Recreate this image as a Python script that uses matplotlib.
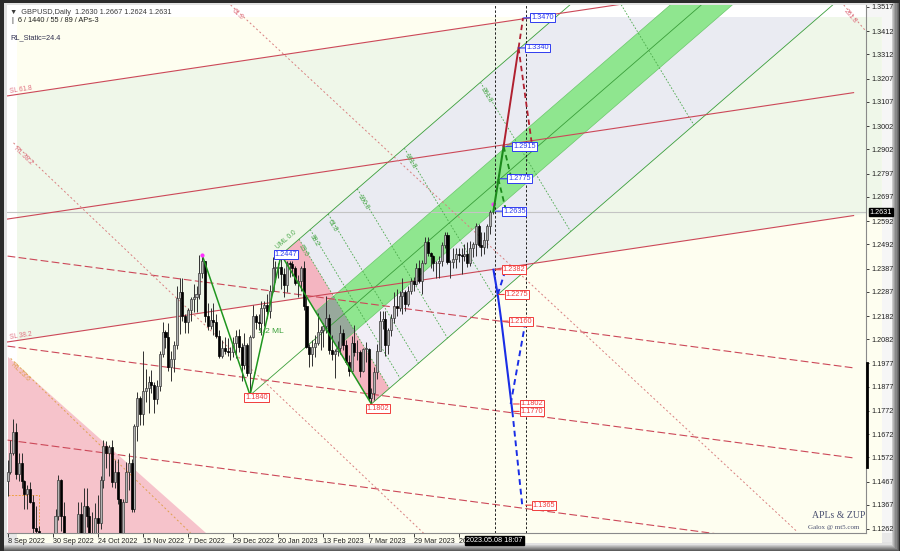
import numpy as np
import matplotlib.pyplot as plt
from matplotlib.patches import Polygon, Rectangle

plt.rcParams['font.family'] = ['Liberation Sans', 'DejaVu Sans']

# ---------------- data: GBPUSD daily, bar 0 = 8 Sep 2022 ----------------
first_open = 1.1470
close = [
    # Sep 2022
    1.1510, 1.1590, 1.1680, 1.1500, 1.1545, 1.1470, 1.1415, 1.1435, 1.1380, 1.1265,
    1.1255, 1.0860, 1.0685, 1.0730, 1.0890, 1.1120, 1.1165,
    # Oct
    1.1320, 1.1475, 1.1320, 1.1155, 1.1090, 1.1060, 1.0970, 1.1105, 1.1325, 1.1175,
    1.1360, 1.1320, 1.1205, 1.1220, 1.1310, 1.1290, 1.1475, 1.1620, 1.1590, 1.1615, 1.1465,
    # Nov
    1.1510, 1.1390, 1.1165, 1.1380, 1.1510, 1.1545, 1.1350, 1.1705, 1.1830, 1.1760,
    1.1860, 1.1870, 1.1895, 1.1885, 1.1825, 1.1880, 1.2020, 1.2115, 1.2090, 1.1960, 1.1995, 1.2055,
    # Dec
    1.2260, 1.2285, 1.2180, 1.2155, 1.2210, 1.2255, 1.2265, 1.2275, 1.2370, 1.2420,
    1.2180, 1.2140, 1.2165, 1.2155, 1.2095, 1.2010, 1.2045, 1.2030, 1.2025, 1.2025, 1.2065, 1.2095,
    # Jan 2023
    1.2050, 1.1970, 1.2055, 1.1935, 1.2090, 1.2180, 1.2155, 1.2150, 1.2215, 1.2230,
    1.2205, 1.2290, 1.2390, 1.2390, 1.2395, 1.2365, 1.2315, 1.2410, 1.2405, 1.2390, 1.2325, 1.2335,
    # Feb
    1.2390, 1.2225, 1.2050, 1.2020, 1.2050, 1.2065, 1.2115, 1.2120, 1.2140, 1.2175,
    1.2035, 1.2020, 1.2030, 1.2045, 1.2110, 1.2055, 1.1985, 1.1945, 1.2065, 1.2025,
    # Mar
    1.2025, 1.1945, 1.2040, 1.2040, 1.1830, 1.1850, 1.1940, 1.2030, 1.2160, 1.2170,
    1.2055, 1.2120, 1.2175, 1.2225, 1.2215, 1.2270, 1.2285, 1.2235, 1.2290, 1.2335,
    1.2320, 1.2390, 1.2335,
    # Apr
    1.2410, 1.2500, 1.2455, 1.2440, 1.2410, 1.2410, 1.2420, 1.2490, 1.2530, 1.2415,
    1.2415, 1.2430, 1.2450, 1.2445, 1.2440, 1.2450, 1.2410, 1.2475, 1.2495, 1.2570,
    # May
    1.2490, 1.2480, 1.2510, 1.2570, 1.2630, 1.2631,
]
high = [
    1.1560, 1.1648, 1.1738, 1.1720, 1.1590, 1.1590, 1.1475, 1.1450, 1.1465, 1.1410,
    1.1360, 1.1275, 1.0935, 1.0805, 1.0900, 1.1125, 1.1235,
    1.1350, 1.1495, 1.1480, 1.1380, 1.1180, 1.1130, 1.1100, 1.1120, 1.1380, 1.1380,
    1.1440, 1.1440, 1.1355, 1.1335, 1.1375, 1.1410, 1.1490, 1.1645, 1.1640, 1.1625, 1.1645,
    1.1560, 1.1565, 1.1390, 1.1390, 1.1550, 1.1590, 1.1565, 1.1715, 1.1855, 1.1835,
    1.2030, 1.1955, 1.1925, 1.1950, 1.1895, 1.1905, 1.2030, 1.2155, 1.2120, 1.2150, 1.2030, 1.2075,
    1.2310, 1.2345, 1.2345, 1.2190, 1.2215, 1.2265, 1.2320, 1.2310, 1.2445, 1.2445,
    1.2420, 1.2240, 1.2215, 1.2240, 1.2190, 1.2120, 1.2080, 1.2090, 1.2085, 1.2050, 1.2090, 1.2120,
    1.2125, 1.2065, 1.2110, 1.2065, 1.2100, 1.2230, 1.2190, 1.2190, 1.2245, 1.2245,
    1.2275, 1.2315, 1.2435, 1.2420, 1.2410, 1.2447, 1.2390, 1.2420, 1.2420, 1.2420, 1.2400, 1.2360,
    1.2400, 1.2420, 1.2265, 1.2060, 1.2080, 1.2100, 1.2195, 1.2140, 1.2150, 1.2270,
    1.2190, 1.2100, 1.2040, 1.2075, 1.2145, 1.2125, 1.2080, 1.2015, 1.2095, 1.2145,
    1.2080, 1.2035, 1.2045, 1.2070, 1.2045, 1.1870, 1.1960, 1.2060, 1.2205, 1.2205,
    1.2205, 1.2130, 1.2190, 1.2285, 1.2300, 1.2290, 1.2345, 1.2295, 1.2310, 1.2345,
    1.2350, 1.2410, 1.2425,
    1.2425, 1.2525, 1.2525, 1.2460, 1.2445, 1.2420, 1.2440, 1.2500, 1.2545, 1.2545,
    1.2425, 1.2475, 1.2475, 1.2475, 1.2475, 1.2495, 1.2500, 1.2505, 1.2500, 1.2585,
    1.2580, 1.2545, 1.2545, 1.2580, 1.2640, 1.2667,
]
low = [
    1.1405, 1.1500, 1.1580, 1.1480, 1.1470, 1.1440, 1.1350, 1.1350, 1.1375, 1.1240,
    1.1215, 1.0840, 1.0350, 1.0675, 1.0540, 1.0765, 1.1025,
    1.1020, 1.1300, 1.1255, 1.1140, 1.1000, 1.0925, 1.0925, 1.0940, 1.0925, 1.1150,
    1.1150, 1.1270, 1.1190, 1.1175, 1.1060, 1.1200, 1.1260, 1.1440, 1.1525, 1.1490, 1.1445,
    1.1440, 1.1370, 1.1145, 1.1150, 1.1380, 1.1430, 1.1335, 1.1335, 1.1640, 1.1710,
    1.1710, 1.1810, 1.1765, 1.1850, 1.1765, 1.1800, 1.1860, 1.2005, 1.2045, 1.1945, 1.1900, 1.1940,
    1.2040, 1.2105, 1.2160, 1.2110, 1.2110, 1.2160, 1.2200, 1.2200, 1.2255, 1.2345,
    1.2155, 1.2120, 1.2125, 1.2100, 1.2085, 1.2000, 1.2000, 1.2020, 1.2010, 1.1990, 1.2005, 1.2000,
    1.2025, 1.1900, 1.1955, 1.1925, 1.1840, 1.2085, 1.2125, 1.2120, 1.2100, 1.2140,
    1.2175, 1.2175, 1.2285, 1.2330, 1.2345, 1.2300, 1.2265, 1.2285, 1.2350, 1.2355, 1.2315, 1.2265,
    1.2290, 1.2210, 1.2045, 1.1960, 1.1965, 1.2005, 1.2055, 1.2035, 1.2050, 1.2110,
    1.2020, 1.1990, 1.1915, 1.2010, 1.2020, 1.2035, 1.1975, 1.1925, 1.1935, 1.2010,
    1.1990, 1.1920, 1.1940, 1.1985, 1.1820, 1.1802, 1.1820, 1.1910, 1.2040, 1.2125,
    1.2010, 1.2020, 1.2095, 1.2150, 1.2180, 1.2205, 1.2190, 1.2205, 1.2225, 1.2275,
    1.2290, 1.2315, 1.2325,
    1.2275, 1.2405, 1.2440, 1.2390, 1.2375, 1.2345, 1.2345, 1.2400, 1.2475, 1.2405,
    1.2345, 1.2390, 1.2390, 1.2415, 1.2365, 1.2420, 1.2395, 1.2400, 1.2435, 1.2440,
    1.2480, 1.2440, 1.2450, 1.2475, 1.2535, 1.2624,
]

date_ticks = [0, 16, 32, 48, 64, 80, 96, 112, 128, 144, 160]
date_labels = ['8 Sep 2022', '30 Sep 2022', '24 Oct 2022', '15 Nov 2022', '7 Dec 2022',
               '29 Dec 2022', '20 Jan 2023', '13 Feb 2023', '7 Mar 2023', '29 Mar 2023',
               '20 Apr 2023']
price_ticks = [1.3517, 1.3412, 1.3312, 1.3207, 1.3107, 1.3002, 1.2902, 1.2797, 1.2697,
               1.2592, 1.2492, 1.2387, 1.2287, 1.2182, 1.2082, 1.1977, 1.1877, 1.1772,
               1.1672, 1.1572, 1.1467, 1.1367, 1.1262]
bid = 1.2631

# ZUP zigzag pivots (Dec high, Jan low, Jan high, Mar low)
piv_bar = [69, 86, 97, 129]
piv_price = [1.2446, 1.1840, 1.2447, 1.1802]
fork_unit = 27                    # bars per 100% time step
time_fibs = [0.236, 0.382, 0.618, 1.0, 1.618, 2.618, 4.236]
time_names = ['23.6', '38.2', '61.8', '100.0', '161.8', '261.8', '423.6']

# red Schiff channel (solid) and parallels (dashed), anchors at bar 0 and bar 300
ch_bars = [0, 300]
sl_618 = [1.3133, 1.3679]
sl_500 = [1.2601, 1.3147]
sl_382 = [1.2070, 1.2616]
dl_1 = [1.2441, 1.1958]
dl_2 = [1.2052, 1.1569]
dl_3 = [1.1646, 1.1163]
# dotted fan lines
rl_618_b, rl_618_p = [79.1, 280.1], [1.3526, 1.1249]
rl_382_b, rl_382_p = [2.1, 148.2], [1.2930, 1.1236]
rl_236_b, rl_236_p = [1.1, 64.9], [1.1999, 1.1245]
rl_2618_b, rl_2618_p = [296.5, 304.6], [1.3526, 1.3409]
tri_b, tri_p = [0, 0, 70.2], [1.2005, 1.1245, 1.1245]
stop_bar, stop_price = 11, 1.1409

# projections
grn_b, grn_p = [172.3, 175.9], [1.2635, 1.2915]
grn_d1_b, grn_d1_p = [175.9, 178.4], [1.2915, 1.2790]
grn_d2_b, grn_d2_p = [174.0, 176.5], [1.2775, 1.2650]
red_b, red_p = [175.9, 181.2], [1.2915, 1.3340]
red_d1_b, red_d1_p = [181.2, 182.8], [1.3340, 1.3470]
red_d2_b, red_d2_p = [181.2, 185.8], [1.3340, 1.2935]
blu_b, blu_p = [172.3, 173.8, 175.1, 179.0], [1.2382, 1.2275, 1.2160, 1.1770]
blu_d1_b, blu_d1_p = [173.8, 176.6], [1.2275, 1.2382]
blu_d2_b, blu_d2_p = [178.4, 183.7], [1.1802, 1.2160]
blu_d3_b, blu_d3_p = [179.0, 182.5], [1.1770, 1.1365]
up_lbl_price = [1.3470, 1.3340, 1.2915, 1.2775, 1.2635]
up_lbl_bar = [183.0, 181.2, 176.6, 174.8, 173.0]
dn_lbl_price = [1.2382, 1.2275, 1.2160, 1.1802, 1.1770, 1.1365]
dn_lbl_bar = [173.0, 174.1, 175.5, 179.4, 179.4, 183.7]
vlines_bar = [172.7, 183.7]
scale_bar = [1.1530, 1.1977]

# ---------------- figure ----------------
W, H = 900, 551
fig = plt.figure(figsize=(W / 100, H / 100), dpi=100)
fig.patch.set_facecolor('#2b2b2b')


def frect(x0, y0, x1, y1, color, z=-10):
    fig.add_artist(Rectangle((x0 / W, 1 - y1 / H), (x1 - x0) / W, (y1 - y0) / H,
                             transform=fig.transFigure, color=color, zorder=z, lw=0))


# bevelled frame: darker outside, lighter inside
bevel = ['#5c5c5c', '#727272', '#888888', '#9e9e9e', '#b4b4b4', '#cacaca']
for i, col in enumerate(bevel):
    frect(4, 3, 899 - i * 1.2, 551 - i * 1.0, col, z=-10 + i * 0.01)
frect(4, 3, 892, 545, '#e2e2e2', z=-9)
frect(866, 5, 892, 533, '#f6f6f6', z=-8)
frect(7, 533, 892, 542, '#e8e8e8', z=-8)

ax = fig.add_axes([7 / W, 18 / H, 859 / W, 528 / H])
ax.set_xlim(-0.2, 304.4)
ax.set_ylim(1.12447, 1.35256)
ax.set_facecolor('white')
for sp in ['top', 'left']:
    ax.spines[sp].set_visible(False)
for sp in ['right', 'bottom']:
    ax.spines[sp].set_color('#8a8a8a')
    ax.spines[sp].set_linewidth(0.8)

x_hi = 310
clip = Rectangle((3.5, 1.12), 320, 1.3474 - 1.12, transform=ax.transData, visible=False)
ax.add_patch(clip)


def fill(pts, color, z, alpha=1.0, clipped=True):
    p = Polygon(pts, closed=True, fc=color, ec='none', zorder=z, alpha=alpha)
    ax.add_patch(p)
    if clipped:
        p.set_clip_path(clip)
    return p


def line_at(bars, prices, b):
    return prices[0] + (prices[1] - prices[0]) * (b - bars[0]) / (bars[1] - bars[0])


# background zones
fill([(-5, 1.12), (x_hi, 1.12), (x_hi, 1.36), (-5, 1.36)], '#fefef0', 0.1)
fill([(-5, line_at(ch_bars, sl_618, -5)), (x_hi, line_at(ch_bars, sl_618, x_hi)),
      (x_hi, line_at(ch_bars, sl_382, x_hi)), (-5, line_at(ch_bars, sl_382, -5))],
     '#eff7e9', 0.2)
fill(list(zip(tri_b, tri_p)), '#f6c3cb', 0.3, clipped=False)

# Andrews pitchfork built on pivots A, B, C
A = (piv_bar[1], piv_price[1])
B = (piv_bar[2], piv_price[2])
C = (piv_bar[3], piv_price[3])
mid = ((B[0] + C[0]) / 2, (B[1] + C[1]) / 2)
slope = (mid[1] - A[1]) / (mid[0] - A[0])


def fp(u, w):
    return (B[0] + u * fork_unit + w * (C[0] - B[0]),
            B[1] + slope * u * fork_unit + w * (C[1] - B[1]))


far = 12
fill([fp(0.236, 0), fp(far, 0), fp(far, 1), fp(0.236, 1)], (0.90, 0.88, 0.99), 0.4, alpha=0.5)
fill([fp(0, 0), fp(0.236, 0), fp(0.236, 1), fp(0, 1)], '#f4b5c1', 0.5)
fill([fp(0, 0.382), fp(far, 0.382), fp(far, 0.618), fp(0, 0.618)], '#8fe68f', 0.6, clipped=False)
fill([fp(0, 0.382), fp(0.236, 0.382), fp(0.236, 0.618), fp(0, 0.618)], '#98a99c', 0.7)

GL = '#3a9e3a'
for w in (0, 1):
    p0, p1 = fp(0, w), fp(far, w)
    ax.plot([p0[0], p1[0]], [p0[1], p1[1]], color=GL, lw=0.6, zorder=2)
for w in (0.382, 0.618):
    p0, p1 = fp(0, w), fp(far, w)
    ax.plot([p0[0], p1[0]], [p0[1], p1[1]], color='#6cc86c', lw=0.5, zorder=2)
p0, p1 = fp(-1, 0.5), fp(far, 0.5)
ax.plot([p0[0], p1[0]], [p0[1], p1[1]], color=GL, lw=0.6, zorder=2)
for k in time_fibs:
    p0, p1 = fp(k, 0), fp(k, 1)
    ax.plot([p0[0], p1[0]], [p0[1], p1[1]], color='#4aa84a', lw=0.6,
            ls=(0, (2, 2)), zorder=2)

# red channel and parallels
RED = '#cc4858'
for arr in (sl_618, sl_500, sl_382):
    ax.plot(ch_bars, arr, color=RED, lw=0.8, zorder=2)
for arr in (dl_1, dl_2, dl_3):
    ax.plot(ch_bars, arr, color=RED, lw=0.8, ls=(0, (7, 3)), zorder=2)
for bb, pp in ((rl_618_b, rl_618_p), (rl_382_b, rl_382_p), (rl_2618_b, rl_2618_p)):
    ax.plot(bb, pp, color='#d98080', lw=0.7, ls=(0, (2, 2.5)), zorder=2)
ax.plot(rl_236_b, rl_236_p, color='#e0a050', lw=0.7, ls=(0, (2, 2.5)), zorder=2)
ax.plot([0, stop_bar, stop_bar], [stop_price, stop_price, 1.12], color='#f0a040',
        lw=0.7, ls=(0, (2, 1.5)), zorder=2)

# bid line and vertical markers
ax.axhline(bid, color='#c4c4c4', lw=0.8, zorder=1.5)
for vb in vlines_bar:
    ax.axvline(vb, color='#202020', lw=0.7, ls=(0, (2.5, 2)), zorder=2.5)

# candles
c = np.array(close)
o = np.array([first_open] + close[:-1])
hgh, lw_ = np.array(high), np.array(low)
xb = np.arange(len(c))
bull = c >= o
ax.vlines(xb, lw_, hgh, color='#303030', lw=0.7, zorder=3)
body = np.maximum(np.abs(c - o), 0.00025)
ax.bar(xb[bull], body[bull], bottom=o[bull], width=0.72, color='#b4b4b4',
       edgecolor='#3a3a3a', lw=0.5, zorder=4)
ax.bar(xb[~bull], body[~bull], bottom=c[~bull], width=0.72, color='#000000',
       edgecolor='#000000', lw=0.5, zorder=4)

# zigzag
ax.plot(piv_bar, piv_price, color='#1f961f', lw=1.1, zorder=5)
ax.plot([piv_bar[0], piv_bar[2], 172], [piv_price[0], piv_price[2], high[172]], 'o',
        color='#ff30ff', ms=2, zorder=6)

# projections
ax.plot(grn_b, grn_p, color='#1b8a1b', lw=1.5, zorder=6)
ax.plot(grn_d1_b, grn_d1_p, color='#1b8a1b', lw=1.3, ls=(0, (3, 2)), zorder=6)
ax.plot(grn_d2_b, grn_d2_p, color='#1b8a1b', lw=1.3, ls=(0, (3, 2)), zorder=6)
ax.plot(red_b, red_p, color='#b02030', lw=1.4, zorder=6)
ax.plot(red_d1_b, red_d1_p, color='#b02030', lw=1.3, ls=(0, (3, 2)), zorder=6)
ax.plot(red_d2_b, red_d2_p, color='#b02030', lw=1.3, ls=(0, (3, 2)), zorder=6)
ax.plot(blu_b, blu_p, color='#1a2ee6', lw=1.5, zorder=6)
for bb, pp in ((blu_d1_b, blu_d1_p), (blu_d2_b, blu_d2_p), (blu_d3_b, blu_d3_p)):
    ax.plot(bb, pp, color='#1a2ee6', lw=1.4, ls=(0, (3, 2)), zorder=6)


def tag(txt, b, p, col, dx, dy=0, ha='left'):
    ax.annotate(txt, xy=(b, p), xytext=(dx, dy), textcoords='offset points',
                ha=ha, va='center', fontsize=5.3, color=col, zorder=8,
                bbox=dict(boxstyle='square,pad=0.12', fc='white', ec=col, lw=0.7),
                arrowprops=dict(arrowstyle='-', color=col, lw=0.8, shrinkA=0, shrinkB=0))


for p, b in zip(up_lbl_price, up_lbl_bar):
    tag(f'{p:.4f}', b, p, '#2f3cf0', 5.5)
for p, b in zip(dn_lbl_price, dn_lbl_bar):
    tag(f'{p:.4f}', b, p, '#f03c3c', 5)
tag(f'{piv_price[2]:.4f}', piv_bar[2], piv_price[2], '#2f3cf0', -4.5)
tag(f'{piv_price[1]:.4f}', piv_bar[1], piv_price[1], '#f03c3c', -3.5, -1.5)
tag(f'{piv_price[3]:.4f}', piv_bar[3], piv_price[3], '#f03c3c', -3.5, -3.5)


def ang(pa, pb):
    a = ax.transData.transform(pa)
    b = ax.transData.transform(pb)
    return np.degrees(np.arctan2(b[1] - a[1], b[0] - a[0]))


t_ang = ang(fp(0, 0), fp(0, 1))
for k, name in zip(time_fibs, time_names):
    ax.annotate(name, xy=fp(k, 0), xytext=(3, -3), textcoords='offset points',
                rotation=t_ang, rotation_mode='anchor', ha='left', va='top',
                fontsize=4.8, color='#4aa84a', zorder=7, annotation_clip=True)
ax.annotate('UML 0.0', xy=B, xytext=(-2, 4), textcoords='offset points',
            rotation=ang(fp(0, 0), fp(1, 0)), rotation_mode='anchor', ha='left',
            fontsize=4.8, color='#4aa84a', zorder=7)
ax.annotate('1/2 ML', xy=A, xytext=(6, 45), textcoords='offset points',
            fontsize=6, color='#3aa03a', zorder=7)

rc = '#e07080'
ax.annotate('SL 61.8', xy=(ch_bars[0], sl_618[0]), xytext=(1, 2), textcoords='offset points',
            rotation=ang((0, sl_618[0]), (300, sl_618[1])), fontsize=4.8, color=rc, zorder=7)
ax.annotate('SL 38.2', xy=(ch_bars[0], sl_382[0]), xytext=(1, 2), textcoords='offset points',
            rotation=ang((0, sl_382[0]), (300, sl_382[1])), fontsize=4.8, color=rc, zorder=7)
for bb, pp, name, col in ((rl_382_b, rl_382_p, 'RL 38.2', rc),
                          (rl_236_b, rl_236_p, 'RL 23.6', '#e0a050'),
                          (rl_618_b, rl_618_p, '61.8', rc),
                          (rl_2618_b, rl_2618_p, '261.8', rc)):
    ax.annotate(name, xy=(bb[0], pp[0]), xytext=(3, -2), textcoords='offset points',
                rotation=ang((bb[0], pp[0]), (bb[1], pp[1])), rotation_mode='anchor',
                ha='left', va='top', fontsize=4.8, color=col, zorder=7)

# axes ticks
ax.yaxis.tick_right()
ax.set_yticks(price_ticks)
ax.set_yticklabels([f'{v:.4f}' for v in price_ticks])
ax.tick_params(axis='y', labelsize=5.2, length=2.5, pad=1.5, colors='#202020', width=0.6)
ax.set_xticks(date_ticks)
ax.set_xticklabels(date_labels, ha='left')
ax.tick_params(axis='x', labelsize=5.2, length=3, pad=0.8, colors='#202020', width=0.6)

ax.plot([1.001, 1.001], scale_bar, color='black', lw=2, transform=ax.get_yaxis_transform(),
        clip_on=False, zorder=9)
ax.annotate(f'{bid:.4f}', xy=(1, bid), xycoords=('axes fraction', 'data'), xytext=(2.5, 0),
            textcoords='offset points', ha='left', va='center', fontsize=5.2, color='white',
            bbox=dict(boxstyle='square,pad=0.12', fc='black', ec='black'), zorder=10,
            annotation_clip=False)
ax.annotate('2023.05.08 18:07', xy=(vlines_bar[0], 0), xycoords=('data', 'axes fraction'),
            xytext=(0, -5.2), textcoords='offset points', ha='center', va='center',
            fontsize=5.2, color='white', zorder=10, annotation_clip=False,
            bbox=dict(boxstyle='square,pad=0.15', fc='black', ec='black'))

# header and signature text
fig.text(10 / W, 1 - 12 / H, '\u25bc  GBPUSD,Daily  1.2630 1.2667 1.2624 1.2631',
         fontsize=5.3, color='#3c3c3c', va='center')
fig.text(12 / W, 1 - 21 / H, '|  6 / 1440 / 55 / 89 / APs-3', fontsize=5.3,
         color='#202020', va='center')
fig.text(10 / W, 1 - 38 / H, 'RL_Static=24.4', fontsize=5.3, color='#303050', va='center')
fig.text(812 / W, 1 - 515 / H, 'APLs & ZUP', fontsize=7, family='Liberation Serif',
         color='#4a5070', va='center')
fig.text(808 / W, 1 - 527 / H, 'Galox @ mt5.com', fontsize=5, family='Liberation Serif',
         color='#4a5070', va='center')

fig.savefig('out.png', dpi=100, facecolor=fig.get_facecolor())
